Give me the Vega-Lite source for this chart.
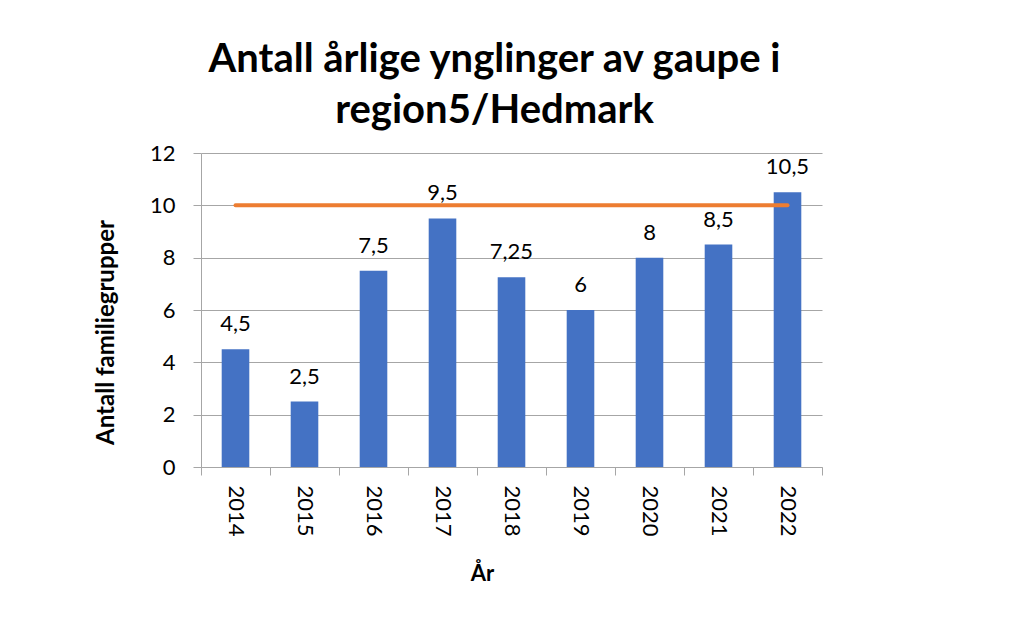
{
  "$schema": "https://vega.github.io/schema/vega-lite/v6.json",
  "width": 621,
  "height": 314,
  "autosize": "none",
  "padding": {"left": 201, "top": 153, "right": 195, "bottom": 151},
  "background": "white",
  "title": {
    "text": ["Antall årlige ynglinger av gaupe i", "region5/Hedmark"],
    "font": "Lato",
    "fontSize": 40,
    "fontWeight": "bold",
    "color": "#000000",
    "lineHeight": 51,
    "anchor": "middle",
    "frame": "group",
    "dx": -17,
    "offset": 11
  },
  "config": {
    "locale": {"number": {"decimal": ",", "thousands": " ", "grouping": [3], "currency": ["", " kr"]}},
    "view": {"stroke": null},
    "font": "Lato",
    "axis": {
      "labelFont": "Lato",
      "titleFont": "Lato",
      "labelColor": "#000000",
      "titleColor": "#000000",
      "domainColor": "#a6a6a6",
      "tickColor": "#a6a6a6",
      "gridColor": "#a6a6a6",
      "domainWidth": 1,
      "tickWidth": 1,
      "gridWidth": 1,
      "tickSize": 8
    }
  },
  "data": {
    "values": [
      {"year": "2014", "value": 4.5, "target": 10},
      {"year": "2015", "value": 2.5, "target": 10},
      {"year": "2016", "value": 7.5, "target": 10},
      {"year": "2017", "value": 9.5, "target": 10},
      {"year": "2018", "value": 7.25, "target": 10},
      {"year": "2019", "value": 6, "target": 10},
      {"year": "2020", "value": 8, "target": 10},
      {"year": "2021", "value": 8.5, "target": 10},
      {"year": "2022", "value": 10.5, "target": 10}
    ]
  },
  "encoding": {
    "x": {
      "field": "year",
      "type": "nominal",
      "sort": null,
      "scale": {"paddingInner": 0, "paddingOuter": 0},
      "axis": {
        "title": "År",
        "labelAngle": 90,
        "labelAlign": "left",
        "labelBaseline": "middle",
        "labelFontSize": 22,
        "labelPadding": 10,
        "tickBand": "extent",
        "titleFontSize": 22,
        "titleFontWeight": "bold",
        "titleX": 281,
        "titleY": 113,
        "titleBaseline": "alphabetic"
      }
    }
  },
  "layer": [
    {
      "mark": {"type": "bar", "color": "#4472C4", "width": {"band": 0.4}},
      "encoding": {
        "y": {
          "field": "value",
          "type": "quantitative",
          "scale": {"domain": [0, 12], "nice": false},
          "axis": {
            "title": "Antall familiegrupper",
            "values": [0, 2, 4, 6, 8, 10, 12],
            "grid": true,
            "labelFontSize": 22,
            "labelPadding": 18,
            "labelBaseline": "middle",
            "titleFontSize": 24,
            "titleFontWeight": "bold",
            "titleAngle": -90,
            "titleX": -88,
            "titleY": 179,
            "titleAlign": "center",
            "titleBaseline": "alphabetic"
          }
        }
      }
    },
    {
      "mark": {"type": "line", "color": "#ED7D31", "strokeWidth": 4, "strokeCap": "round"},
      "encoding": {
        "y": {"field": "target", "type": "quantitative"}
      }
    },
    {
      "mark": {"type": "text", "fontSize": 22, "color": "#000000", "baseline": "alphabetic", "dy": -18},
      "encoding": {
        "y": {"field": "value", "type": "quantitative"},
        "text": {"field": "value", "type": "quantitative", "format": "~g"}
      }
    }
  ]
}
